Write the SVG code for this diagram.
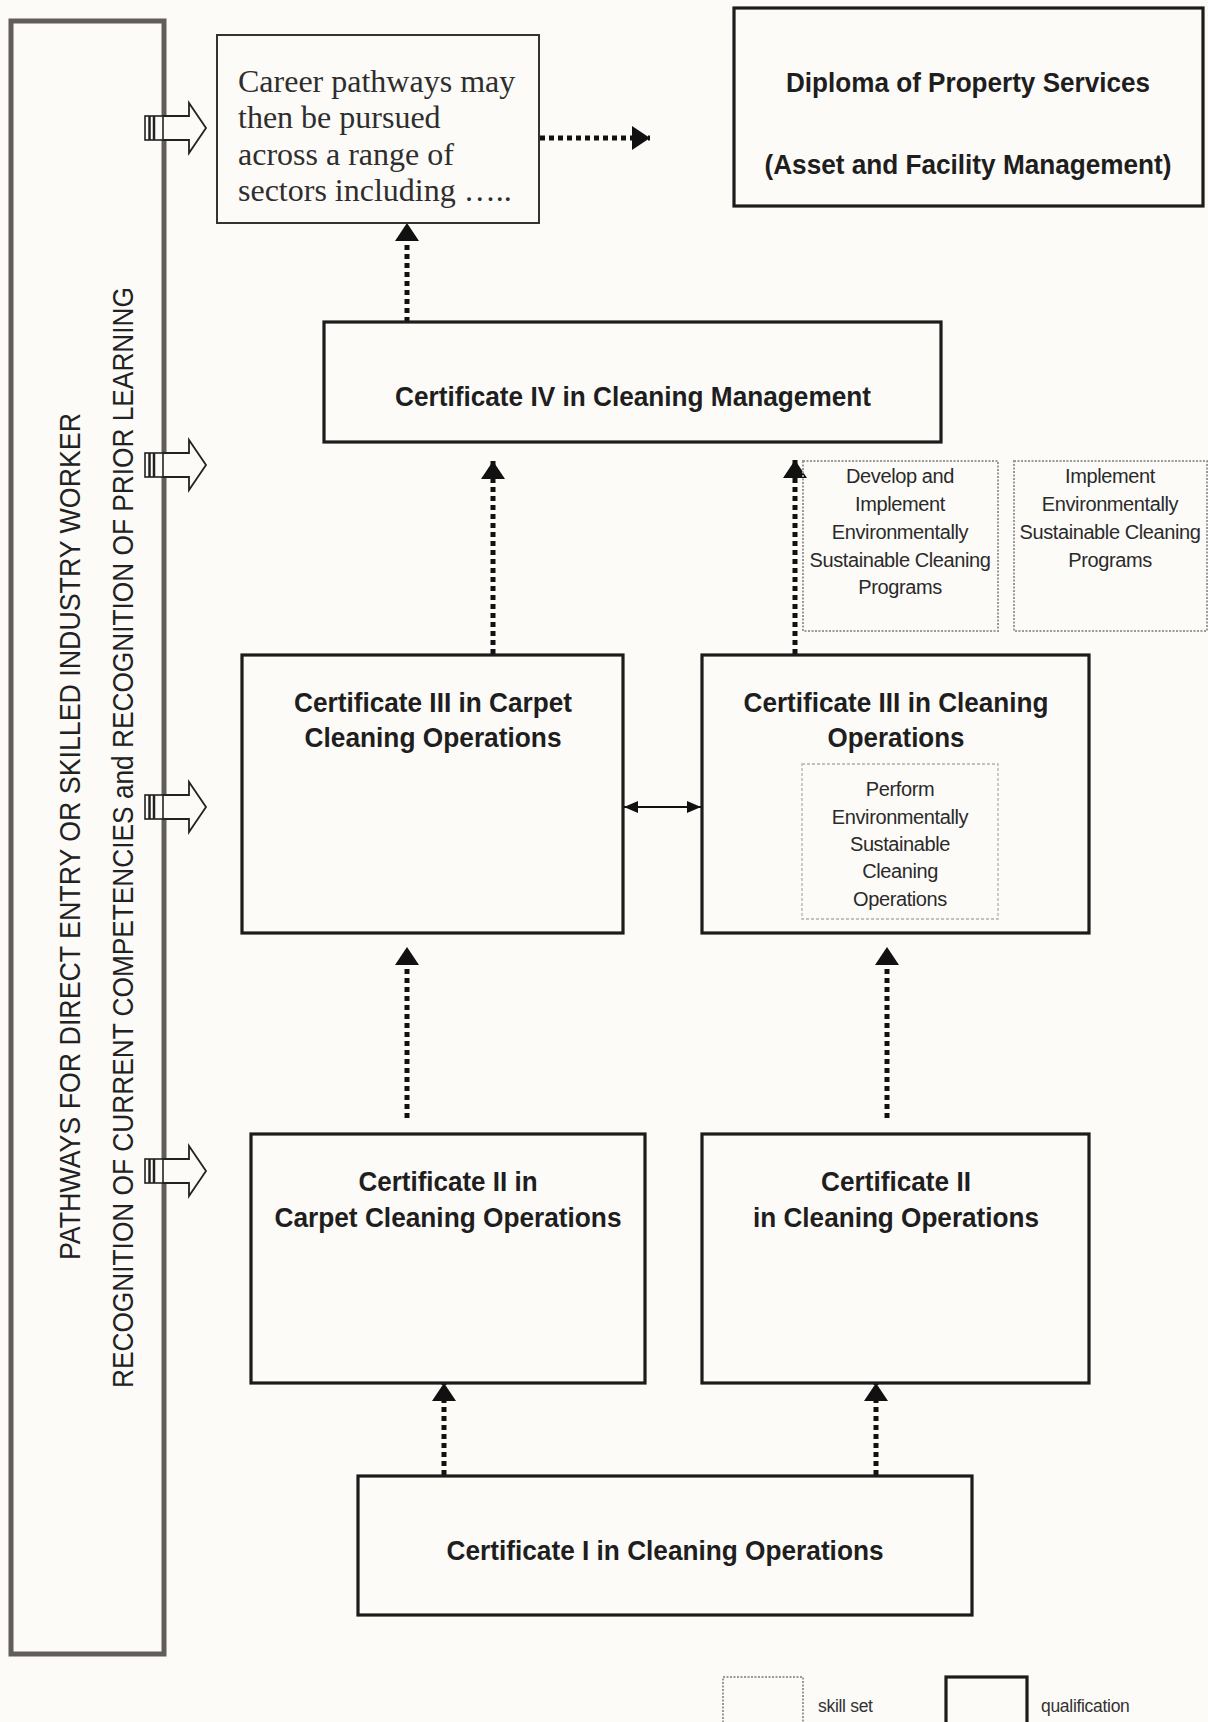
<svg xmlns="http://www.w3.org/2000/svg" width="1208" height="1722" viewBox="0 0 1208 1722">
<style>
.bg{fill:#fdfbf8}
.q{fill:#fdfbf8;stroke:#1c1c1c;stroke-width:3.2}
.sk{fill:none;stroke:#9a9a9a;stroke-width:2;stroke-dasharray:2 1.5}
.ski{fill:none;stroke:#b0b0b0;stroke-width:1.3;stroke-dasharray:3 2}
.b{font-family:"Liberation Sans",Arial,sans-serif;font-weight:bold;font-size:28px;fill:#1e1e1e;text-anchor:middle}
.s{font-family:"Liberation Sans",Arial,sans-serif;font-size:20px;fill:#2a2a2a;text-anchor:middle;letter-spacing:-0.4px}
.v{font-family:"Liberation Sans",Arial,sans-serif;font-size:29px;fill:#222;text-anchor:middle}
.serif{font-family:"Liberation Serif","Times New Roman",serif;font-size:32px;fill:#2e2e2e}
.lg{font-family:"Liberation Sans",Arial,sans-serif;font-size:17.5px;fill:#333;letter-spacing:-0.3px}
.dot{fill:none;stroke:#111;stroke-width:5;stroke-dasharray:5 4}
</style>
<defs>
<marker id="ah" viewBox="0 0 18 24" refX="18" refY="12" markerWidth="18" markerHeight="24" markerUnits="userSpaceOnUse" orient="auto">
<path d="M0,0 L18,12 L0,24 Z" fill="#111"/>
</marker>
<marker id="sh" viewBox="0 0 14 12" refX="14" refY="6" markerWidth="14" markerHeight="12" markerUnits="userSpaceOnUse" orient="auto-start-reverse">
<path d="M0,0 L14,6 L0,12 Z" fill="#111"/>
</marker>
<g id="blk">
<path d="M163,-12 H189 V-25 L206,0 L189,25 V12 H163" fill="#fdfbf8" stroke="#222" stroke-width="1.8"/>
<rect x="145" y="-12" width="18" height="24" fill="#fdfbf8" stroke="#222" stroke-width="1.6"/>
<line x1="149.5" y1="-12" x2="149.5" y2="12" stroke="#222" stroke-width="2.5"/>
<line x1="154" y1="-12" x2="154" y2="12" stroke="#222" stroke-width="2.5"/>
</g>
</defs>
<rect class="bg" x="0" y="0" width="1208" height="1722"/>

<g id="sidebar">
<rect x="11" y="21" width="153" height="1633" fill="#fdfbf8" stroke="#625d58" stroke-width="5"/>
<use href="#blk" y="128"/>
<use href="#blk" y="465"/>
<use href="#blk" y="807"/>
<use href="#blk" y="1171"/>
<text class="v" transform="translate(80,836.5) rotate(-90)" textLength="847" lengthAdjust="spacingAndGlyphs">PATHWAYS FOR DIRECT ENTRY OR SKILLED INDUSTRY WORKER</text>
<text class="v" transform="translate(133,837.5) rotate(-90)" textLength="1101" lengthAdjust="spacingAndGlyphs">RECOGNITION OF CURRENT COMPETENCIES and RECOGNITION OF PRIOR LEARNING</text>
</g>

<g id="connectors">
<line class="dot" x1="540" y1="138" x2="650" y2="138" marker-end="url(#ah)"/>
<line class="dot" x1="407" y1="322" x2="407" y2="223" marker-end="url(#ah)"/>
<line class="dot" x1="493" y1="654" x2="493" y2="461" marker-end="url(#ah)"/>
<line class="dot" x1="795" y1="654" x2="795" y2="460" marker-end="url(#ah)"/>
<line x1="624" y1="807" x2="701" y2="807" stroke="#111" stroke-width="2" marker-start="url(#sh)" marker-end="url(#sh)"/>
<line class="dot" x1="407" y1="1118" x2="407" y2="947" marker-end="url(#ah)"/>
<line class="dot" x1="887" y1="1118" x2="887" y2="947" marker-end="url(#ah)"/>
<line class="dot" x1="444" y1="1475" x2="444" y2="1383" marker-end="url(#ah)"/>
<line class="dot" x1="876" y1="1475" x2="876" y2="1383" marker-end="url(#ah)"/>
</g>

<g id="career">
<rect x="217" y="35" width="322" height="188" fill="#fdfbf8" stroke="#333" stroke-width="2"/>
<text class="serif" x="238" y="92">Career pathways may</text>
<text class="serif" x="238" y="128">then be pursued</text>
<text class="serif" x="238" y="165">across a range of</text>
<text class="serif" x="238" y="201">sectors including …..</text>
</g>

<g id="diploma">
<rect class="q" x="734" y="8" width="469" height="198"/>
<text class="b" x="968" y="92" textLength="364" lengthAdjust="spacingAndGlyphs">Diploma of Property Services</text>
<text class="b" x="968" y="174" textLength="407" lengthAdjust="spacingAndGlyphs">(Asset and Facility Management)</text>
</g>

<g id="cert4">
<rect class="q" x="324" y="322" width="617" height="120"/>
<text class="b" x="633" y="406" textLength="476" lengthAdjust="spacingAndGlyphs">Certificate IV in Cleaning Management</text>
</g>

<g id="skill-develop">
<rect class="sk" x="803" y="461" width="195" height="170"/>
<text class="s" x="900" y="483">Develop and</text>
<text class="s" x="900" y="511">Implement</text>
<text class="s" x="900" y="539">Environmentally</text>
<text class="s" x="900" y="567">Sustainable Cleaning</text>
<text class="s" x="900" y="594">Programs</text>
</g>

<g id="skill-implement">
<rect class="sk" x="1014" y="461" width="193" height="170"/>
<text class="s" x="1110" y="483">Implement</text>
<text class="s" x="1110" y="511">Environmentally</text>
<text class="s" x="1110" y="539">Sustainable Cleaning</text>
<text class="s" x="1110" y="567">Programs</text>
</g>

<g id="cert3-carpet">
<rect class="q" x="242" y="655" width="381" height="278"/>
<text class="b" x="433" y="712" textLength="278" lengthAdjust="spacingAndGlyphs">Certificate III in Carpet</text>
<text class="b" x="433" y="747" textLength="257" lengthAdjust="spacingAndGlyphs">Cleaning Operations</text>
</g>

<g id="cert3-cleaning">
<rect class="q" x="702" y="655" width="387" height="278"/>
<text class="b" x="896" y="712" textLength="305" lengthAdjust="spacingAndGlyphs">Certificate III in Cleaning</text>
<text class="b" x="896" y="747" textLength="137" lengthAdjust="spacingAndGlyphs">Operations</text>
<g id="skill-perform">
<rect class="ski" x="802" y="764" width="196" height="155"/>
<text class="s" x="900" y="796">Perform</text>
<text class="s" x="900" y="824">Environmentally</text>
<text class="s" x="900" y="851">Sustainable</text>
<text class="s" x="900" y="878">Cleaning</text>
<text class="s" x="900" y="906">Operations</text>
</g>
</g>

<g id="cert2-carpet">
<rect class="q" x="251" y="1134" width="394" height="249"/>
<text class="b" x="448" y="1191" textLength="179" lengthAdjust="spacingAndGlyphs">Certificate II in</text>
<text class="b" x="448" y="1227" textLength="347" lengthAdjust="spacingAndGlyphs">Carpet Cleaning Operations</text>
</g>

<g id="cert2-cleaning">
<rect class="q" x="702" y="1134" width="387" height="249"/>
<text class="b" x="896" y="1191" textLength="150" lengthAdjust="spacingAndGlyphs">Certificate II</text>
<text class="b" x="896" y="1227" textLength="286" lengthAdjust="spacingAndGlyphs">in Cleaning Operations</text>
</g>

<g id="cert1">
<rect class="q" x="358" y="1476" width="614" height="139"/>
<text class="b" x="665" y="1560" textLength="437" lengthAdjust="spacingAndGlyphs">Certificate I in Cleaning Operations</text>
</g>

<g id="legend">
<rect class="sk" x="723" y="1677" width="80" height="60"/>
<text class="lg" x="818" y="1712">skill set</text>
<rect class="q" x="946" y="1677" width="81" height="60"/>
<text class="lg" x="1041" y="1712">qualification</text>
</g>
</svg>
